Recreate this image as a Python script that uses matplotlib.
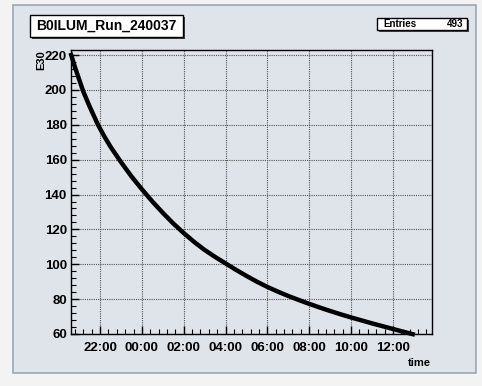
import matplotlib
matplotlib.use('Agg')
import matplotlib.pyplot as plt
from matplotlib.patches import Rectangle
from matplotlib.ticker import MultipleLocator, FixedLocator

# hours since midnight of the first day (24 = 00:00 next day)
hours = [20.62, 20.8, 21.0, 21.2, 21.5, 21.9, 22.2, 22.5, 23.0, 23.5,
         24.0, 24.5, 25.0, 25.5, 26.0, 26.5, 27.0, 27.5, 28.0, 28.5,
         29.0, 29.5, 30.0, 30.5, 31.0, 31.5, 32.0, 32.5, 33.0, 33.5,
         34.0, 34.5, 35.0, 35.5, 36.0, 36.5, 36.95]
e30 = [220, 213, 206, 199, 190.5, 180, 173.4, 167.4, 158.6, 150.4,
       143, 136, 129.5, 123.4, 117.9, 112.8, 108.2, 104.2, 100.5, 96.8,
       93.3, 90, 87, 84.3, 81.8, 79.5, 77.3, 75.2, 73.2, 71.3,
       69.5, 67.8, 66.1, 64.5, 62.9, 61.3, 59.9]

tick_hours = [22, 24, 26, 28, 30, 32, 34, 36]
tick_labels = ['22:00', '00:00', '02:00', '04:00', '06:00', '08:00', '10:00', '12:00']

title = 'B0ILUM_Run_240037'
entries = 493

W, H = 482, 386
fig = plt.figure(figsize=(W / 100, H / 100), dpi=100)
fig.patch.set_facecolor('#f3f3f3')

def fx(px):
    return px / W

def fy(py):
    return 1 - py / H

def frect(x0, y0, x1, y1, z, **kw):
    r = Rectangle((fx(x0), fy(y1)), fx(x1) - fx(x0), fy(y0) - fy(y1),
                  transform=fig.transFigure, zorder=z, **kw)
    fig.patches.append(r)

# canvas panel
bg = '#dfe4ea'
frect(13, 5, 476, 373, -10, facecolor=bg, edgecolor='#9aa8b6', lw=1.2)

ax = fig.add_axes([fx(71), fy(334), fx(432) - fx(71), fy(50) - fy(334)])
ax.set_facecolor(bg)
ax.plot(hours, e30, color='black', lw=3.2, solid_joinstyle='round', clip_on=False)

ax.set_xlim(20.61, 37.87)
ax.set_ylim(60, 222.9)
ax.xaxis.set_major_locator(FixedLocator(tick_hours))
ax.set_xticklabels(tick_labels)
ax.xaxis.set_minor_locator(MultipleLocator(0.4))
ax.yaxis.set_major_locator(MultipleLocator(20))
ax.yaxis.set_minor_locator(MultipleLocator(4))

font = 'Liberation Sans'
ax.tick_params(which='both', direction='in', top=False, right=False, color='black')
ax.tick_params(which='major', length=6, width=1)
ax.tick_params(which='minor', length=3.5, width=0.8)
ax.tick_params(axis='x', pad=6)
ax.tick_params(axis='y', pad=3)
for lab in ax.get_xticklabels() + ax.get_yticklabels():
    lab.set_fontfamily(font)
    lab.set_fontweight('bold')
    lab.set_fontsize(9.5)

ax.grid(True, which='major', color='#555555', linestyle=(0, (1, 1)), lw=0.8)
for sp in ax.spines.values():
    sp.set_linewidth(1)

# axis titles
fig.text(fx(41), fy(50), 'E30', rotation=90, ha='center', va='top',
         fontfamily=font, fontweight='bold', fontsize=8)
fig.text(fx(431), fy(363), 'time', ha='right', va='center',
         fontfamily=font, fontweight='bold', fontsize=8)

# title box with shadow
frect(32, 17, 185, 39, 5, facecolor='#444444', edgecolor='none')
frect(30, 15, 183, 37, 6, facecolor='white', edgecolor='black', lw=1)
fig.text(fx(106.5), fy(26), title, ha='center', va='center', zorder=7,
         fontfamily=font, fontweight='bold', fontsize=10)

# stats box with shadow
frect(379, 20, 469, 32, 5, facecolor='#444444', edgecolor='none')
frect(377, 18, 467, 30, 6, facecolor='white', edgecolor='black', lw=1)
fig.text(fx(383), fy(24), 'Entries', ha='left', va='center', zorder=7,
         fontfamily=font, fontweight='bold', fontsize=7)
fig.text(fx(463), fy(24), str(entries), ha='right', va='center', zorder=7,
         fontfamily=font, fontweight='bold', fontsize=7)

fig.savefig('out.png', dpi=100, facecolor=fig.get_facecolor())
